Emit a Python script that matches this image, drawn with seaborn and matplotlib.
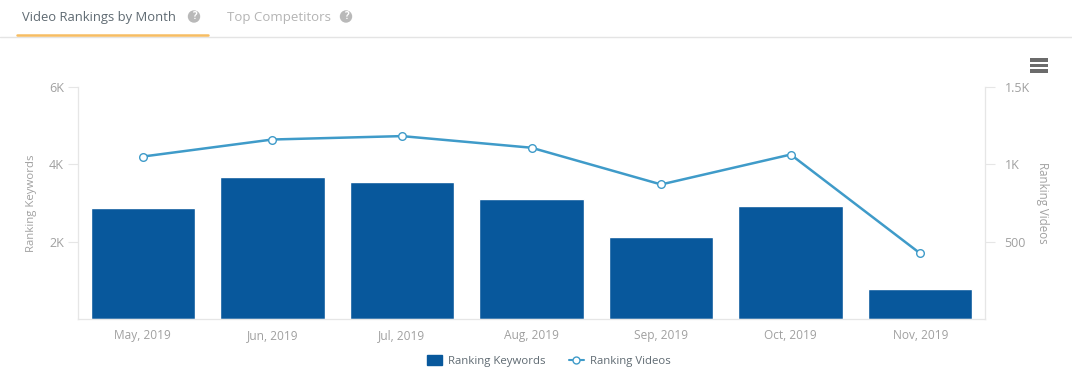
import matplotlib
matplotlib.use('Agg')
import matplotlib.pyplot as plt
import pandas as pd
import seaborn as sns
from matplotlib.lines import Line2D
from matplotlib.patches import Patch, Rectangle, Circle

sns.set_theme(style="white")
plt.rcParams['font.family'] = ['Open Sans', 'DejaVu Sans']

months = ['May, 2019', 'Jun, 2019', 'Jul, 2019', 'Aug, 2019', 'Sep, 2019', 'Oct, 2019', 'Nov, 2019']
keywords = [2852, 3652, 3523, 3084, 2125, 2915, 775]
videos = [1048, 1158, 1180, 1105, 868, 1061, 423]
left_ticks = [2000, 4000, 6000]
left_labels = ['2K', '4K', '6K']
right_ticks = [500, 1000, 1500]
right_labels = ['500', '1K', '1.5K']

W, H = 1072, 391
grey = '#a0a0a0'
axis_c = '#e6e6e6'
bar_c = '#08589c'
line_c = '#3f9bc9'


def fx(x):
    return x / W


def fy(y):
    return 1 - y / H


df = pd.DataFrame({'month': months, 'keywords': keywords, 'videos': videos})

fig = plt.figure(figsize=(W / 100, H / 100), dpi=100)
ax = fig.add_axes([fx(78), fy(319), 907 / W, 232.5 / H])
sns.barplot(data=df, x='month', y='keywords', color=bar_c, saturation=1, width=0.805, ax=ax)
ax.set_xlim(-0.5, 6.5)
ax.set_ylim(0, 6000)
ax.set_yticks(left_ticks, left_labels)
ax.set_xlabel('')
ax.set_ylabel('Ranking Keywords', fontsize=8.2, color=grey, labelpad=9)

ax2 = ax.twinx()
sns.lineplot(data=df, x='month', y='videos', sort=False, color=line_c, lw=1.8, marker='o', ms=5.5,
             mfc='white', mec=line_c, mew=1, ax=ax2, zorder=5)
ax2.set_ylim(0, 1500)
ax2.set_yticks(right_ticks, right_labels)
ax2.set_xlabel('')
ax2.set_ylabel('Ranking Videos', fontsize=8.3, color=grey, rotation=270, labelpad=14)

for a in (ax, ax2):
    for s in a.spines.values():
        s.set_color(axis_c)
        s.set_linewidth(0.8)
    a.spines['top'].set_visible(False)
    a.tick_params(axis='x', length=4, width=0.8, color=axis_c, labelcolor=grey, labelsize=8.6, pad=3)
ax.tick_params(axis='y', length=7, width=0.8, color=axis_c, labelcolor=grey, labelsize=9, pad=3)
ax2.tick_params(axis='y', length=7, width=0.8, color=axis_c, labelcolor=grey, labelsize=9, pad=7)

# tabs
fig.text(fx(22), fy(18), 'Video Rankings by Month', fontsize=9.4, color='#5f6a72', va='center')
fig.text(fx(227), fy(18), 'Top Competitors', fontsize=9.5, color='#b4b4b4', va='center')
for cx in (194, 346):
    fig.add_artist(Circle((cx, H - 16.5), 5.5, color='#b9b9b9', transform=None))
    fig.text(fx(cx), fy(16.5), '?', fontsize=7, color='white', weight='bold', ha='center', va='center')
fig.add_artist(Line2D([0, 1], [fy(36.5)] * 2, color='#e4e4e4', lw=1))
fig.add_artist(Line2D([fx(17), fx(208)], [fy(34.5)] * 2, color='#f7bd62', lw=1.8))

# menu icon
for y in (60, 65.5, 71):
    fig.add_artist(Rectangle((fx(1029.5), fy(y + 1.5)), 18 / W, 3 / H, facecolor='#6b6b6b', lw=0,
                             transform=fig.transFigure))

# legend
handles = [Patch(facecolor=bar_c, edgecolor=bar_c),
           Line2D([], [], color=line_c, lw=1.5, marker='o', ms=5, mfc='white', mec=line_c)]
leg = fig.legend(handles, ['Ranking Keywords', 'Ranking Videos'], loc='center',
                 bbox_to_anchor=(fx(549), fy(361)), ncol=2, frameon=False, fontsize=8.2,
                 labelcolor='#5f6a72', handlelength=1.3, handleheight=0.9, columnspacing=2, handletextpad=0.6)

fig.savefig('out.png', dpi=100, facecolor='white')
